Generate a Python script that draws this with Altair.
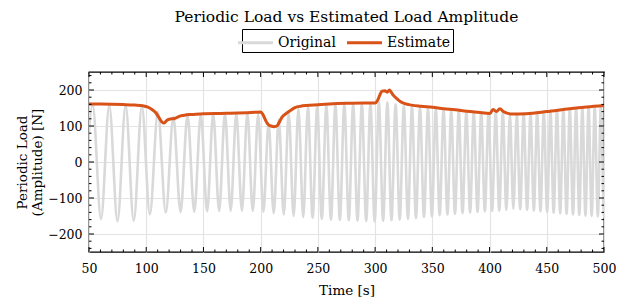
import altair as alt
import pandas as pd

FONT = "DejaVu Serif"

# Extrema of the periodic load
peak_t = [53.2, 67.7, 82.0, 96.2, 110.2, 123.7, 136.1, 147.7, 158.5, 168.8, 178.7, 188.4, 197.8,
          206.9, 215.8, 224.5, 233.0, 241.3, 249.4, 257.4, 265.3, 273.1, 280.8, 288.4, 295.9,
          303.3, 310.7, 317.9, 325.1, 332.2, 339.2, 346.2, 353.0, 359.8, 366.5, 373.1, 379.7,
          386.2, 392.7, 399.1, 405.4, 411.6, 417.8, 423.8, 429.8, 435.8, 441.6, 447.4, 453.2,
          458.9, 464.5, 470.1, 475.6, 481.1, 486.5, 491.9, 497.3, 502.7]
peak_v = [158, 157, 157, 154, 139, 125, 130, 132, 134, 135, 135, 136, 132,
          108, 118, 135, 148, 153, 155, 157, 158, 160, 160, 161, 162,
          166, 166, 160, 156, 153, 151, 149, 147, 145, 143, 142, 140,
          139, 138, 136, 140, 138, 132, 133, 134, 136, 138, 140, 142,
          144, 146, 148, 150, 151, 153, 154, 156, 157]
trough_t = [45.9, 60.5, 74.9, 89.1, 103.2, 117.1, 130.0, 142.0, 153.2, 163.7, 173.8, 183.6, 193.1,
            202.4, 211.4, 220.2, 228.8, 237.2, 245.4, 253.4, 261.4, 269.2, 277.0, 284.6, 292.2,
            299.6, 307.0, 314.3, 321.5, 328.7, 335.7, 342.7, 349.6, 356.4, 363.2, 369.8, 376.4,
            383.0, 389.5, 395.9, 402.2, 408.5, 414.7, 420.8, 426.8, 432.8, 438.7, 444.5, 450.3,
            456.0, 461.7, 467.3, 472.9, 478.4, 483.8, 489.2, 494.6, 500.0]
trough_v = [-155, -158, -165, -163, -145, -140, -139, -138, -137, -136, -135, -135, -136,
            -138, -142, -146, -150, -153, -155, -158, -160, -161, -162, -163, -164,
            -165, -163, -162, -160, -158, -156, -153, -151, -148, -146, -144, -142,
            -140, -139, -137, -136, -135, -133, -130, -131, -133, -135, -137, -139,
            -141, -143, -144, -146, -147, -149, -150, -151, -152]

# Estimated load amplitude
est_t = [50, 60, 70, 80, 90, 97, 101, 105, 108, 111, 114, 115.5, 117, 119, 122, 125, 127, 130,
         135, 140, 150, 165, 180, 195, 200, 202, 204, 206.5, 209, 212, 214.5, 217, 219, 222,
         226, 230, 235, 240, 250, 260, 275, 290, 300, 302, 304, 306, 308.5, 310.5, 312.5, 314,
         316, 319, 322, 326, 332, 340, 350, 360, 370, 380, 390, 400.5, 403, 406, 409, 412, 416,
         420, 432, 450, 470, 485, 500]
est_v = [161, 161, 160.5, 159.5, 158, 156, 153, 146, 138, 124, 110, 108, 112, 118, 120, 121, 124, 128,
         131, 132, 134, 135, 136, 138, 139, 132, 118, 104, 100, 98, 101, 115, 126, 134,
         143, 151, 155, 157, 159, 161, 163, 164, 164, 170, 185, 197, 198, 194, 200, 194,
         185, 176, 168, 162, 158, 155, 152, 148, 145, 141, 138, 135, 146, 140, 148, 140, 135,
         133, 134, 140, 148, 153, 157]

x_major = list(range(50, 501, 50))
x_minor = [v for v in range(50, 501, 10) if v % 50]
y_major = [-200, -100, 0, 100, 200]
y_minor = [v for v in range(-240, 241, 20) if v % 100]

sig_df = pd.DataFrame({"t": peak_t + trough_t, "v": peak_v + trough_v})
sig_df = sig_df.sort_values("t").reset_index(drop=True)
sig_df["series"] = "Original"
est_df = pd.DataFrame({"t": est_t, "v": est_v, "series": "Estimate"})

W, H = 515, 180
xs = alt.Scale(domain=[50, 500], nice=False, zero=False)
ys = alt.Scale(domain=[-250, 250], nice=False, zero=False)
cs = alt.Scale(domain=["Original", "Estimate"], range=["#d9d9d9", "#d95319"])

legend = alt.Legend(title=None, orient="none", legendX=153, legendY=-43, direction="horizontal",
                    symbolType="M-1.75,0H1.75", symbolSize=400, symbolStrokeWidth=3,
                    labelFont=FONT, labelFontSize=14, labelColor="black",
                    strokeColor="black", fillColor="white", padding=2, columnPadding=5,
                    labelOffset=11)

x_axis = alt.Axis(title="Time [s]", values=x_major, ticks=False, domain=False, labelPadding=10,
                  grid=True, labelFlush=False, titlePadding=9)
y_axis = alt.Axis(title=["Periodic Load", "(Amplitude) [N]"], values=y_major, ticks=False,
                  domain=False, labelPadding=7, grid=True, titlePadding=3)

X = alt.X("t:Q", scale=xs, axis=x_axis)
Y = alt.Y("v:Q", scale=ys, axis=y_axis)

sig = alt.Chart(sig_df).mark_line(strokeWidth=2.6, clip=True, interpolate="monotone").encode(
    x=X, y=Y, color=alt.Color("series:N", scale=cs, legend=legend),
)
est = alt.Chart(est_df).mark_line(strokeWidth=3, clip=True, interpolate="monotone").encode(
    x=X, y=Y, color=alt.Color("series:N", scale=cs, legend=legend),
)


def xticks(vals, size):
    d = pd.DataFrame({"t": vals})
    base = alt.Chart(d).mark_rule(color="black", strokeWidth=1)
    top = base.encode(x=X, y=alt.value(0), y2=alt.value(size))
    bot = base.encode(x=X, y=alt.value(H), y2=alt.value(H - size))
    return [top, bot]


def yticks(vals, size):
    d = pd.DataFrame({"v": vals})
    base = alt.Chart(d).mark_rule(color="black", strokeWidth=1)
    left = base.encode(y=Y, x=alt.value(0), x2=alt.value(size))
    right = base.encode(y=Y, x=alt.value(W), x2=alt.value(W - size))
    return [left, right]


layers = [sig, est] + xticks(x_major, 5) + xticks(x_minor, 2.5) + yticks(y_major, 5) + yticks(y_minor, 2.5)

chart = alt.layer(*layers).properties(
    width=W, height=H,
    title=alt.TitleParams("Periodic Load vs Estimated Load Amplitude", font=FONT, fontSize=15.5,
                          fontWeight="normal", anchor="middle", color="black", offset=3),
    autosize=alt.AutoSizeParams(type="none"),
    padding={"left": 81, "top": 64, "right": 15, "bottom": 46},
).configure_view(stroke="black", strokeWidth=1.3).configure_axis(
    labelFont=FONT, labelFontSize=12.5, labelColor="black",
    titleFont=FONT, titleFontSize=13.5, titleFontWeight="normal", titleColor="black",
    gridColor="#e3e3e3", gridWidth=1.2,
)

chart.save("out.html", embed_options={"renderer": "svg", "actions": False})
